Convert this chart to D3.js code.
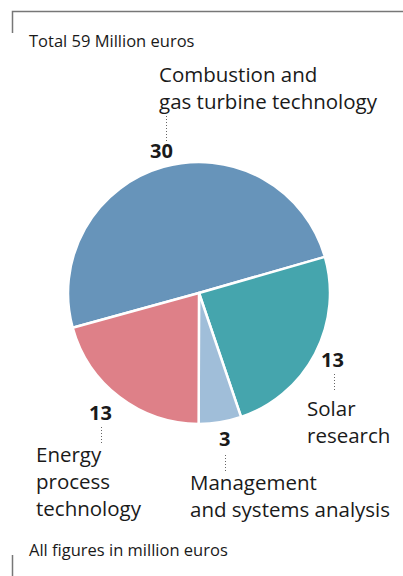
<!DOCTYPE html>
<html>
<head>
<meta charset="utf-8">
<script src="https://cdn.jsdelivr.net/npm/d3@7"></script>
<style>
  body { margin: 0; background: #fff; }
  text { font-family: "Open Sans", sans-serif; fill: #1a1a1a; }
</style>
</head>
<body>
<div id="chart"></div>
<script>
// slice shares (angles), labels as printed
const categories = ['Combustion and gas turbine technology', 'Solar research', 'Management and systems analysis', 'Energy process technology']
const values = [29.4, 14.3, 3.1, 12.2]
const valueLabels = ['30', '13', '3', '13']
const nameLines = [
  ['Combustion and', 'gas turbine technology'],
  ['Solar', 'research'],
  ['Management', 'and systems analysis'],
  ['Energy', 'process', 'technology']
]
const colors = ['#6794ba', '#45a5ad', '#a0bed9', '#de8088']
const totalLabel = 'Total 59 Million euros'
const footLabel = 'All figures in million euros'

const width = 403
const height = 576
const cx = 199
const cy = 293
const radius = 131

// label positions (value number, dotted leader, name block)
const labelPos = [
  { nx: 150, ny: 158, lx: 166.5, ly1: 116, ly2: 141, tx: 159, ty: 82 },
  { nx: 321, ny: 367, lx: 334.5, ly1: 374, ly2: 392, tx: 307, ty: 416 },
  { nx: 219, ny: 446, lx: 225.5, ly1: 455, ly2: 472, tx: 190, ty: 490 },
  { nx: 89, ny: 420, lx: 101.5, ly1: 427, ly2: 444, tx: 36, ty: 462 }
]

const svg = d3.select('#chart').append('svg')
  .attr('width', width)
  .attr('height', height)

// frame corner lines
svg.append('path')
  .attr('d', 'M12.5,33 V11.5 H403')
  .attr('fill', 'none')
  .attr('stroke', '#777')
  .attr('stroke-width', 1.5)
svg.append('path')
  .attr('d', 'M12.5,555 V576')
  .attr('fill', 'none')
  .attr('stroke', '#777')
  .attr('stroke-width', 1.5)

svg.append('text')
  .attr('x', 29)
  .attr('y', 47)
  .style('font-size', '16.5px')
  .text(totalLabel)

svg.append('text')
  .attr('x', 29)
  .attr('y', 556)
  .style('font-size', '16.5px')
  .text(footLabel)

const pie = d3.pie()
  .sort(null)
  .startAngle(-105.4 * Math.PI / 180)
  .endAngle((360 - 105.4) * Math.PI / 180)
  .value((d) => d)

const arc = d3.arc().innerRadius(0).outerRadius(radius)

const g = svg.append('g').attr('transform', `translate(${cx},${cy})`)

g.selectAll('path')
  .data(pie(values))
  .join('path')
  .attr('d', arc)
  .attr('fill', (d, i) => colors[i])
  .attr('stroke', '#fff')
  .attr('stroke-width', 2.5)
  .attr('stroke-linejoin', 'round')

const labels = svg.append('g')
  .selectAll('g')
  .data(categories)
  .join('g')

labels.append('text')
  .attr('x', (d, i) => labelPos[i].nx)
  .attr('y', (d, i) => labelPos[i].ny)
  .style('font-size', '20px')
  .style('font-weight', 'bold')
  .text((d, i) => valueLabels[i])

labels.append('line')
  .attr('x1', (d, i) => labelPos[i].lx)
  .attr('x2', (d, i) => labelPos[i].lx)
  .attr('y1', (d, i) => labelPos[i].ly1)
  .attr('y2', (d, i) => labelPos[i].ly2)
  .attr('stroke', '#666')
  .attr('stroke-width', 1)
  .attr('stroke-dasharray', '1,2')

labels.append('text')
  .attr('y', (d, i) => labelPos[i].ty)
  .style('font-size', '20.5px')
  .selectAll('tspan')
  .data((d, i) => nameLines[i].map((t) => ({ t, i })))
  .join('tspan')
  .attr('x', (d) => labelPos[d.i].tx)
  .attr('dy', (d, j) => j === 0 ? 0 : 27)
  .text((d) => d.t)
</script>
</body>
</html>
